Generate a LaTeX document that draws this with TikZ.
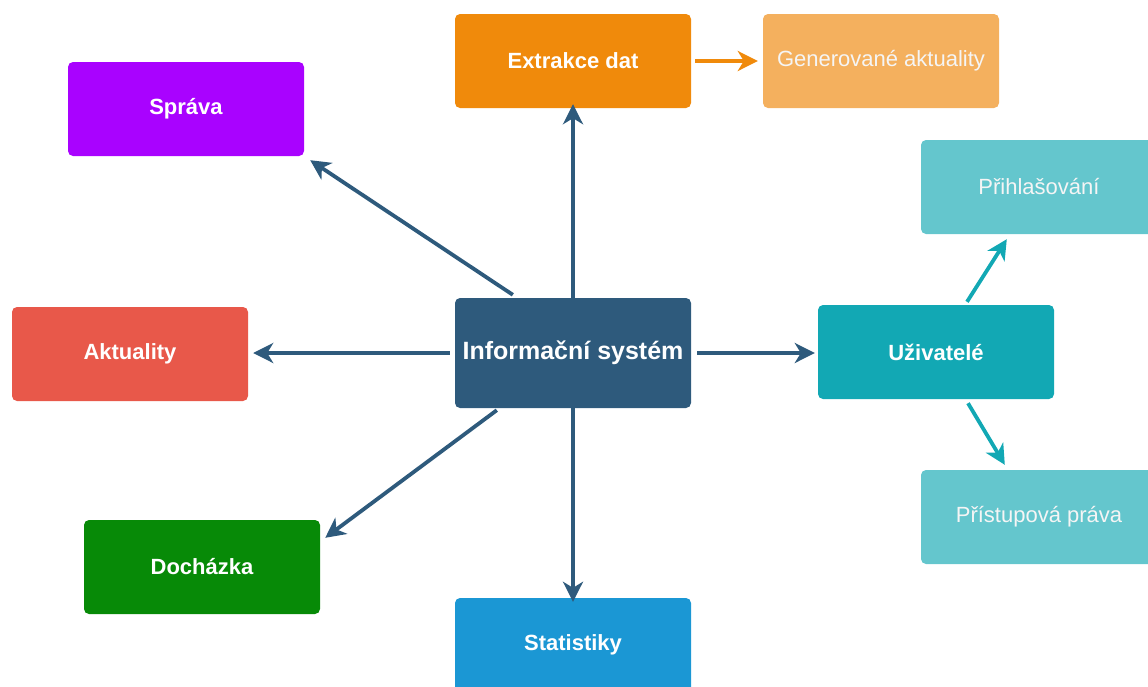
\documentclass[tikz,border=0pt]{standalone}
\usepackage{fontspec}
\setmainfont{Liberation Sans}
\usetikzlibrary{arrows.meta,calc}

\definecolor{cCore}{HTML}{2E5A7C}
\definecolor{cSprava}{HTML}{A902FF}
\definecolor{cExtr}{HTML}{F08A0B}
\definecolor{cGen}{HTML}{F4B05E}
\definecolor{cAkt}{HTML}{E8584A}
\definecolor{cUziv}{HTML}{12A8B4}
\definecolor{cLight}{HTML}{64C6CD}
\definecolor{cDoch}{HTML}{078A07}
\definecolor{cStat}{HTML}{1B97D4}

\tikzset{
  box/.style={rectangle, rounded corners=5pt, minimum width=236pt, minimum height=94pt,
    inner sep=0pt, text=white, font=\fontsize{22}{26}\selectfont\bfseries},
  softbox/.style={box, text=white!96!black, font=\fontsize{22}{26}\selectfont},
  link/.style={line width=3.8pt, draw=cCore,
    -{Stealth[length=20pt,width=20pt,inset=6pt]}},
}

\begin{document}
\begin{tikzpicture}[x=1pt,y=-1pt]
\useasboundingbox (0,0) rectangle (1148,686);
\clip (0,0) rectangle (1148,686);

% boxes
\node[box, fill=cCore, minimum height=110pt, font=\fontsize{25}{29}\selectfont\bfseries] (is) at (573,353) {Informační systém};
\node[box, fill=cSprava] (sprava) at (186,109) {Správa};
\node[box, fill=cExtr]   (extr)   at (573,61)  {Extrakce dat};
\node[softbox, fill=cGen] (gen)   at (881,61)  {Generované aktuality};
\node[box, fill=cAkt]    (akt)    at (130,354) {Aktuality};
\node[box, fill=cUziv]   (uziv)   at (936,352) {Uživatelé};
\node[softbox, fill=cLight] (prihl) at (1039,187) {Přihlašování};
\node[softbox, fill=cLight] (prist) at (1039,517) {Přístupová práva};
\node[box, fill=cDoch]   (doch)   at (202,567) {Docházka};
\node[box, fill=cStat]   (stat)   at (573,645) {Statistiky};

% connectors from the core
\draw[link] ([shift={(58,-3)}]is.north west) -- ([shift={(6,4)}]sprava.south east);
\draw[link] ([yshift=-3pt]is.north) -- ([yshift=4pt]extr.south);
\draw[link] ([xshift=-5pt]is.west) -- ([xshift=5pt]is.west -| akt.east);
\draw[link] ([xshift=6pt]is.east) -- ([xshift=-3pt]is.east -| uziv.west);
\draw[link] ([shift={(42,2)}]is.south west) -- ([shift={(5,18)}]doch.north east);
\draw[link] ([yshift=4pt]is.south) -- ([yshift=-4pt]stat.north);

% secondary connectors
\draw[link, draw=cExtr] ([xshift=4pt]extr.east) -- ([xshift=-5pt]gen.west);
\draw[link, draw=cUziv] ([shift={(31,-3)}]uziv.north) -- ([shift={(86,5)}]prihl.south west);
\draw[link, draw=cUziv] ([shift={(32,4)}]uziv.south) -- ([shift={(84,-5)}]prist.north west);
\end{tikzpicture}
\end{document}
